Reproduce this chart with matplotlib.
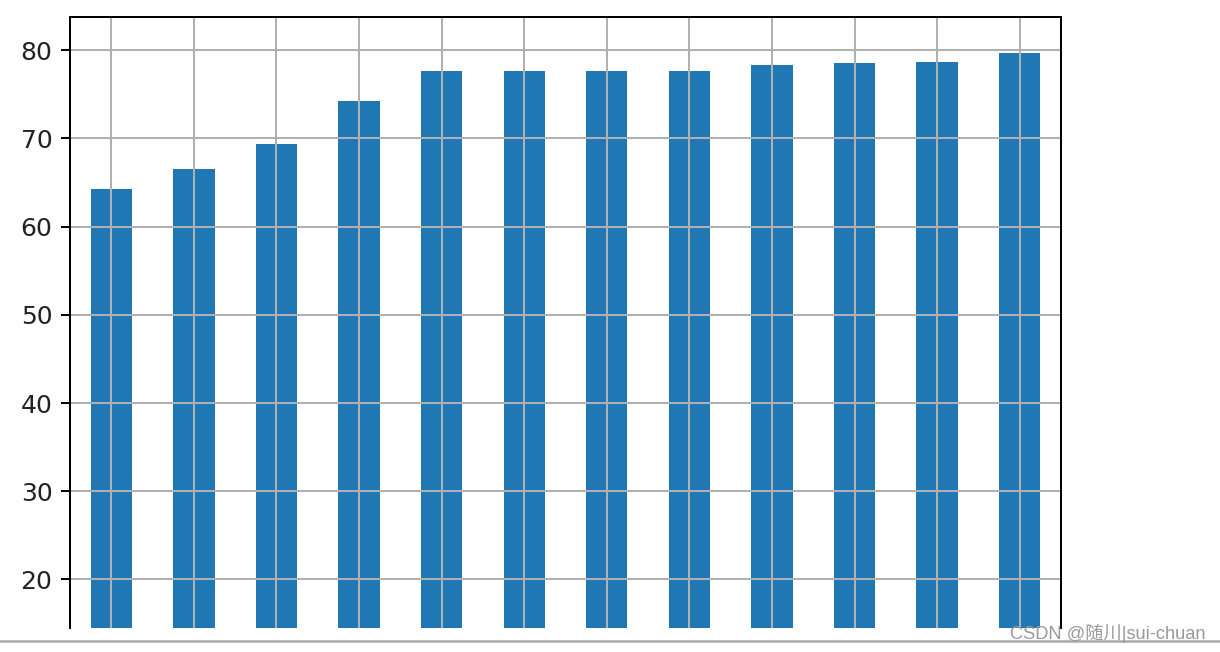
import matplotlib
matplotlib.use('Agg')
import matplotlib.pyplot as plt
from matplotlib.lines import Line2D

# bar values (x labels are cut off in the original)
categories = list(range(12))
values = [64.3, 66.5, 69.4, 74.2, 77.6, 77.6, 77.6, 77.6, 78.3, 78.5, 78.7, 79.7]
yticks = [20, 30, 40, 50, 60, 70, 80]

DPI = 180
fig = plt.figure(figsize=(1220 / DPI, 652 / DPI), dpi=DPI)
W, H = 1220, 652
ax = fig.add_axes([70 / W, 1 - 628 / H, (1061 - 70) / W, (628 - 17) / H])

ax.bar(categories, values, width=0.5, color='#1f77b4')
ax.set_xlim(-0.5, len(categories) - 0.5)
ax.set_ylim(14.5, 83.75)
ax.set_xticks(categories)
ax.set_yticks(yticks)
ax.grid(True)
ax.tick_params(axis='x', bottom=False, labelbottom=False)
ax.tick_params(axis='y', labelcolor='#222222')
ax.spines['bottom'].set_visible(False)

# screenshot artefacts: bottom separator line and watermark
fig.add_artist(Line2D([0, 1], [1 - 641 / H, 1 - 641 / H], color='#aaaaaa', lw=1.0))
fig.text(1205 / W, 1 - 633 / H, 'CSDN @随川|sui-chuan', ha='right', va='center',
         fontsize=7.3, color='#999999',
         family=['Liberation Sans', 'Noto Sans CJK SC'])

fig.savefig('out.png', dpi=DPI)
